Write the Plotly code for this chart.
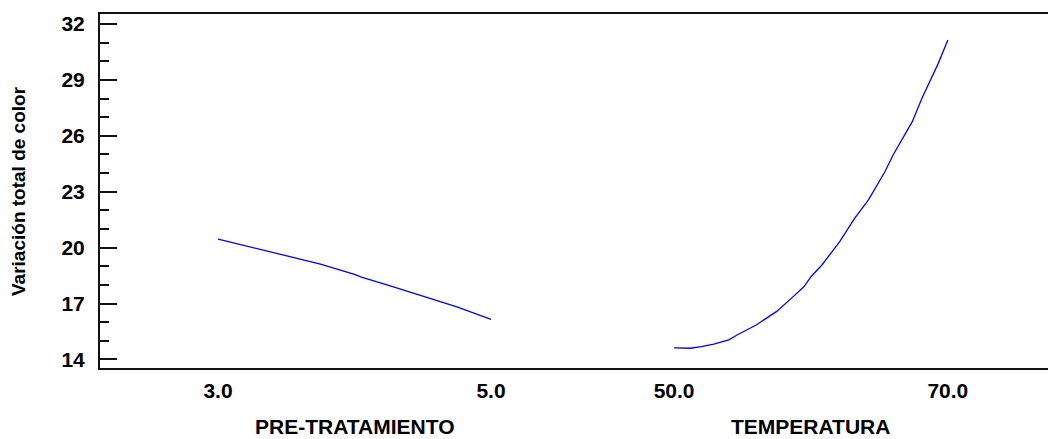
import plotly.graph_objects as go

# Data
pre_x = [3.0, 3.25, 3.5, 3.75, 4.0, 4.05, 4.25, 4.5, 4.75, 5.0]
pre_y = [20.46, 20.00, 19.57, 19.12, 18.56, 18.42, 17.97, 17.40, 16.82, 16.15]

temp_x = [50, 51.2, 52, 52.9, 54, 54.6, 56, 57.5, 58.7, 59.5, 60, 60.8, 62.1,
          63.2, 64.2, 65.4, 66, 67.4, 68.1, 68.7, 69.3, 70]
temp_y = [14.62, 14.60, 14.69, 14.82, 15.05, 15.31, 15.85, 16.58, 17.37, 17.91,
          18.44, 19.07, 20.32, 21.58, 22.56, 24.07, 24.97, 26.76, 28.01, 28.99,
          29.89, 31.14]

pre_ticks = [3.0, 5.0]
temp_ticks = [50.0, 70.0]
y_major = [14, 17, 20, 23, 26, 29, 32]

x_title_pre = "PRE-TRATAMIENTO"
x_title_temp = "TEMPERATURA"
y_title = "Variación total de color"

FONT = "Liberation Sans, Arial, sans-serif"
LINE_COLOR = "#0000ff"

fig = go.Figure()
fig.add_trace(go.Scatter(x=pre_x, y=pre_y, mode="lines", xaxis="x", yaxis="y",
                         line=dict(color=LINE_COLOR, width=1.3), showlegend=False))
fig.add_trace(go.Scatter(x=temp_x, y=temp_y, mode="lines", xaxis="x2", yaxis="y",
                         line=dict(color=LINE_COLOR, width=1.3), showlegend=False))

split = 0.5047
tickfont = dict(family=FONT, size=21, color="black", weight="bold")
xcommon = dict(showgrid=False, zeroline=False, showline=True, linecolor="#111",
               linewidth=2, mirror=True, ticks="", tickfont=tickfont,
               tickformat=".1f", ticklabelstandoff=3, fixedrange=True)

# page body has an 8px margin, so the figure is 8px smaller than the window
fig.update_layout(
    width=1048, height=431,
    margin=dict(l=92, r=0, t=6, b=71),
    paper_bgcolor="white", plot_bgcolor="white",
    font=dict(family=FONT, color="black"),
    xaxis=dict(domain=[0, split], range=[2.1355, 5.670], tickvals=pre_ticks,
               anchor="y", **xcommon),
    xaxis2=dict(domain=[split, 1], range=[43.31, 77.90], tickvals=temp_ticks,
                anchor="y", **xcommon),
    yaxis=dict(range=[13.54, 32.54], tick0=14, dtick=3, ticks="inside",
               ticklen=17, tickwidth=2, tickcolor="#111",
               showline=True, linecolor="#111", linewidth=2, mirror=False,
               showgrid=False, zeroline=False, tickfont=tickfont,
               ticklabelstandoff=9, anchor="x",
               minor=dict(dtick=1, tick0=14, ticks="inside", ticklen=9,
                          tickwidth=1.5, tickcolor="#111", showgrid=False)),
    showlegend=False,
)

# axis titles
title_font = dict(family=FONT, size=21, color="black", weight="bold")
fig.add_annotation(text=x_title_pre, xref="x", x=(pre_ticks[0] + pre_ticks[1]) / 2,
                   yref="paper", y=0, yshift=-58, yanchor="middle", showarrow=False,
                   font=title_font)
fig.add_annotation(text=x_title_temp, xref="x2", x=(temp_ticks[0] + temp_ticks[1]) / 2,
                   yref="paper", y=0, yshift=-58, yanchor="middle", showarrow=False,
                   font=title_font)
fig.add_annotation(text=y_title, xref="paper", x=0, xshift=-82, xanchor="center",
                   yref="paper", y=0.5, yanchor="middle", textangle=-90,
                   showarrow=False,
                   font=dict(family=FONT, size=19, color="black", weight="bold"))

# right-side frame ticks (frame edge lies just outside the image)
for v in y_major:
    fig.add_shape(type="line", xref="paper", yref="y", x0=0.9927, x1=1.0,
                  y0=v, y1=v, line=dict(color="#111", width=2))

fig.write_html("out.html")
